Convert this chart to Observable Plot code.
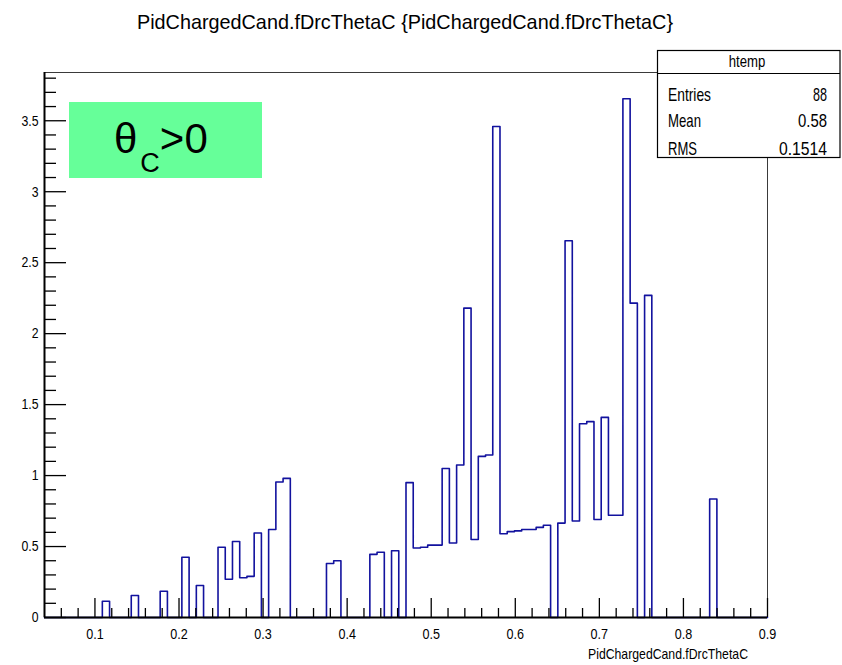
<!DOCTYPE html>
<html><head><meta charset="utf-8">
<script src="https://cdn.jsdelivr.net/npm/d3@7"></script>
<script src="https://cdn.jsdelivr.net/npm/@observablehq/plot@0.6"></script>
<style>
html,body{margin:0;padding:0;background:#fff;overflow:hidden;}
#chart{width:842px;height:665px;}
svg text{font-family:"Liberation Sans",Arial,Helvetica,sans-serif;}
</style></head><body><div id="chart"></div>
<script>
// ---- data (100 bins from 0.04 to 0.90) ----
const xMin = 0.04, xMax = 0.90, nBins = 100;
const filledBins = [8,12,16,19,21,24,25,26,27,28,29,31,32,33,39,40,45,46,48,
  50,51,52,53,54,55,56,57,58,59,60,61,62,63,64,65,66,67,68,69,
  71,72,73,74,75,76,77,78,79,80,81,83,92];
const binContents = [0.115,0.155,0.185,0.425,0.225,0.495,0.27,0.535,0.28,0.29,0.595,0.62,0.955,0.98,0.38,0.40,0.445,0.46,0.47,
  0.95,0.49,0.495,0.51,0.51,1.05,0.525,1.075,2.18,0.55,1.135,1.145,3.46,0.59,0.605,0.61,0.62,0.62,0.635,0.65,
  0.665,2.655,0.68,1.365,1.38,0.69,1.41,0.72,0.72,3.655,2.215,2.27,0.835];
const xTickValues = [0.1,0.2,0.3,0.4,0.5,0.6,0.7,0.8,0.9];
const xTickLabels = ["0.1","0.2","0.3","0.4","0.5","0.6","0.7","0.8","0.9"];
const yTickValues = [0,0.5,1,1.5,2,2.5,3,3.5];
const yTickLabels = ["0","0.5","1","1.5","2","2.5","3","3.5"];
const yMax = 3.84;
const titleText = "PidChargedCand.fDrcThetaC {PidChargedCand.fDrcThetaC}";
const xAxisTitle = "PidChargedCand.fDrcThetaC";
const statsName = "htemp";
const statsLabels = ["Entries","Mean","RMS"];
const statsValues = ["88","0.58","0.1514"];
const cutLabel = {main: "\u03B8", sub: "C", rest: ">0"};

// ---- derived tables ----
const binWidth = (xMax - xMin) / nBins;
const contents = new Array(nBins).fill(0);
filledBins.forEach((b, i) => { contents[b] = binContents[i]; });
const steps = contents.map((v, i) => ({x: xMin + i * binWidth, y: v}));
steps.push({x: xMax, y: 0});
const xMinor = d3.range(3, 45).map(i => +(i * 0.02).toFixed(2)).filter(v => v > xMin && v < xMax && Math.abs(v*10 - Math.round(v*10)) > 1e-6);
const yMinor = d3.range(1, 39).map(i => +(i * 0.1).toFixed(1)).filter(v => v <= yMax && Math.abs(v*2 - Math.round(v*2)) > 1e-6);

const W = 842, H = 665, mL = 44, mR = 75, mT = 72, mB = 48;
const frameW = W - mL - mR, frameH = H - mT - mB;
const lineColor = "#12129e";

const chart = Plot.plot({
  width: W, height: H,
  marginLeft: mL, marginRight: mR, marginTop: mT, marginBottom: mB,
  style: {fontFamily: "Liberation Sans, Arial, Helvetica, sans-serif", background: "#fff"},
  x: {domain: [xMin, xMax]},
  y: {domain: [0, yMax]},
  marks: [
    Plot.frame({stroke: "#3a3a3a", strokeWidth: 1}),
    Plot.line(steps, {x: "x", y: "y", curve: "step-after", stroke: lineColor, strokeWidth: 1.6}),
    Plot.ruleY([0], {stroke: "#000", strokeWidth: 2}),
    Plot.ruleX([xMin], {stroke: "#000", strokeWidth: 2}),
    Plot.tickX(xTickValues, {x: d => d, stroke: "#000", strokeWidth: 1.3, insetTop: frameH - 19}),
    Plot.tickX(xMinor, {x: d => d, stroke: "#000", strokeWidth: 1.3, insetTop: frameH - 9}),
    Plot.tickY(yTickValues, {y: d => d, stroke: "#000", strokeWidth: 1.3, insetRight: frameW - 22}),
    Plot.tickY(yMinor, {y: d => d, stroke: "#000", strokeWidth: 1.3, insetRight: frameW - 12}),
    Plot.axisX({ticks: xTickValues, tickFormat: (d, i) => xTickLabels[i], tickSize: 0, tickPadding: 11, fontSize: 15, label: null, fill: "#000"}),
    Plot.axisY({ticks: yTickValues, tickFormat: (d, i) => yTickLabels[i], tickSize: 0, tickPadding: 6, fontSize: 15, label: null, fill: "#000"})
  ]
});
document.getElementById("chart").appendChild(chart);

const svg = d3.select(chart);
function squeeze(sel, ratio) {
  sel.each(function() {
    const w = this.getComputedTextLength();
    if (w > 0) { this.setAttribute("textLength", (w * ratio).toFixed(1)); this.setAttribute("lengthAdjust", "spacingAndGlyphs"); }
  });
}
squeeze(svg.selectAll('g[aria-label="x-axis tick label"] text'), 0.84);
squeeze(svg.selectAll('g[aria-label="y-axis tick label"] text'), 0.82);

// title
svg.append("text").attr("x", 405).attr("y", 29).attr("text-anchor", "middle")
  .attr("font-size", 21).attr("fill", "#000").text(titleText)
  .attr("textLength", 536).attr("lengthAdjust", "spacingAndGlyphs");

// x axis title
svg.append("text").attr("x", 748).attr("y", 659).attr("text-anchor", "end")
  .attr("font-size", 15).attr("fill", "#000").text(xAxisTitle)
  .attr("textLength", 160).attr("lengthAdjust", "spacingAndGlyphs");

// cut label box
const cut = svg.append("g");
cut.append("rect").attr("x", 69).attr("y", 102).attr("width", 193).attr("height", 76).attr("fill", "#66ff99");
const ct = cut.append("text").attr("x", 114).attr("y", 152.5).attr("text-anchor", "start").attr("font-size", 42).attr("fill", "#000");
ct.append("tspan").text(cutLabel.main);
ct.append("tspan").attr("font-size", 27).attr("dx", 3).attr("dy", 19).text(cutLabel.sub);
ct.append("tspan").attr("font-size", 42).attr("dy", -19).text(cutLabel.rest);

// stats box
const st = svg.append("g");
st.append("rect").attr("x", 657.5).attr("y", 50.5).attr("width", 182.5).attr("height", 107).attr("fill", "#fff").attr("stroke", "#000").attr("stroke-width", 1.2);
st.append("line").attr("x1", 657.5).attr("x2", 840).attr("y1", 73.5).attr("y2", 73.5).attr("stroke", "#000").attr("stroke-width", 1.2);
st.append("text").attr("x", 747).attr("y", 67).attr("text-anchor", "middle").attr("font-size", 17).attr("fill", "#000")
  .text(statsName).attr("textLength", 36.5).attr("lengthAdjust", "spacingAndGlyphs");
const rowY = [100.5, 127, 155];
const labelW = [43, 33, 29];
const valueW = [14, 29, 48];
statsLabels.forEach((s, i) => {
  st.append("text").attr("x", 668).attr("y", rowY[i]).attr("text-anchor", "start").attr("font-size", 19).attr("fill", "#000")
    .text(s).attr("textLength", labelW[i]).attr("lengthAdjust", "spacingAndGlyphs");
  st.append("text").attr("x", 827).attr("y", rowY[i]).attr("text-anchor", "end").attr("font-size", 19).attr("fill", "#000")
    .text(statsValues[i]).attr("textLength", valueW[i]).attr("lengthAdjust", "spacingAndGlyphs");
});
</script></body></html>
